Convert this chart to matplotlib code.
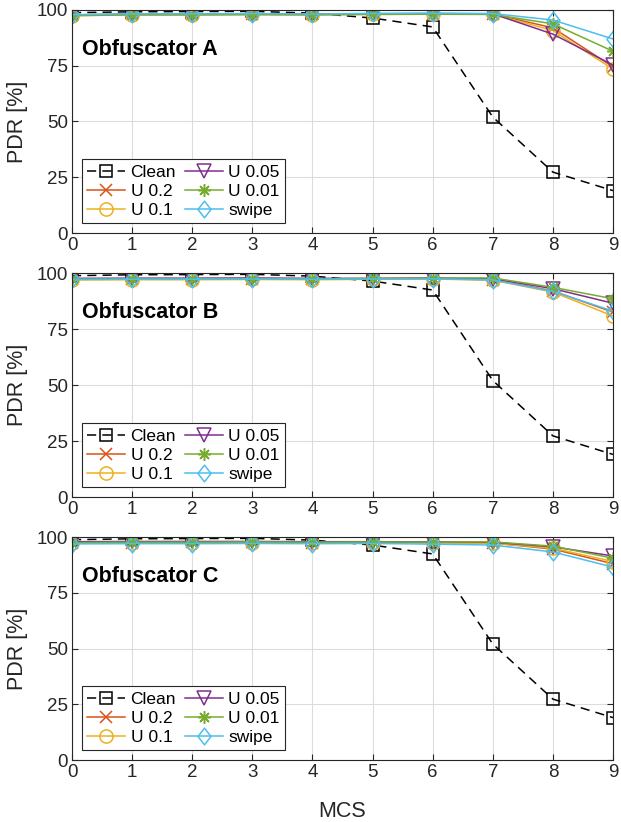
import matplotlib
matplotlib.use("Agg")
import matplotlib.pyplot as plt
from matplotlib.path import Path
import numpy as np

plt.rcParams['font.family'] = ['Liberation Sans', 'DejaVu Sans']

mcs = [0, 1, 2, 3, 4, 5, 6, 7, 8, 9]
series_names = ['Clean', 'U 0.2', 'U 0.1', 'U 0.05', 'U 0.01', 'swipe']
panel_titles = ['Obfuscator A', 'Obfuscator B', 'Obfuscator C']

clean = [98.8, 99.2, 99.3, 99.4, 98.6, 96.4, 92.4, 52.0, 27.3, 19.0]

pdr_A = {
    'U 0.2':  [97.6, 98.0, 98.0, 98.1, 98.0, 98.2, 98.3, 98.2, 92.0, 74.5],
    'U 0.1':  [97.4, 97.9, 97.9, 98.0, 97.9, 98.1, 98.2, 98.1, 90.8, 73.5],
    'U 0.05': [97.8, 98.2, 98.2, 98.3, 98.1, 98.3, 98.4, 98.3, 89.2, 75.3],
    'U 0.01': [97.5, 97.8, 97.8, 97.9, 97.8, 98.0, 98.1, 98.0, 93.8, 81.5],
    'swipe':  [97.9, 98.3, 98.3, 98.4, 98.2, 98.5, 98.6, 98.4, 95.5, 87.0],
}
pdr_B = {
    'U 0.2':  [97.2, 97.3, 97.3, 97.4, 97.3, 97.4, 97.5, 97.0, 92.0, 82.5],
    'U 0.1':  [96.9, 97.0, 97.0, 97.1, 97.0, 97.2, 97.3, 96.8, 91.5, 80.8],
    'U 0.05': [97.6, 97.7, 97.7, 97.8, 97.6, 97.6, 97.8, 97.4, 93.0, 86.5],
    'U 0.01': [97.3, 97.4, 97.4, 97.5, 97.4, 97.6, 97.7, 97.8, 93.6, 88.5],
    'swipe':  [97.1, 97.2, 97.2, 97.3, 97.2, 97.3, 97.4, 96.9, 91.8, 83.0],
}
pdr_C = {
    'U 0.2':  [97.4, 97.5, 97.6, 97.6, 97.5, 97.6, 97.5, 97.3, 94.6, 88.0],
    'U 0.1':  [97.2, 97.4, 97.4, 97.5, 97.4, 97.5, 97.4, 97.2, 95.0, 89.0],
    'U 0.05': [97.9, 98.0, 98.0, 98.0, 97.9, 97.9, 97.8, 97.6, 95.6, 91.5],
    'U 0.01': [97.5, 97.7, 97.7, 97.8, 97.7, 97.8, 97.7, 97.8, 95.9, 90.5],
    'swipe':  [96.9, 97.0, 97.0, 97.1, 97.0, 97.1, 96.8, 96.4, 93.3, 86.5],
}
panels = [pdr_A, pdr_B, pdr_C]

colors = {'Clean': 'black', 'U 0.2': '#D95319', 'U 0.1': '#EDB120',
          'U 0.05': '#7E2F8E', 'U 0.01': '#77AC30', 'swipe': '#4DBEEE'}

diamond = Path([(0, 1), (0.78, 0), (0, -1), (-0.78, 0), (0, 1)],
               [Path.MOVETO, Path.LINETO, Path.LINETO, Path.LINETO, Path.CLOSEPOLY])
markers = {'Clean': 's', 'U 0.2': 'x', 'U 0.1': 'o', 'U 0.05': 'v',
           'U 0.01': (8, 2, 0), 'swipe': diamond}
msizes = {'Clean': 9, 'U 0.2': 8, 'U 0.1': 9.5, 'U 0.05': 9.5,
          'U 0.01': 9, 'swipe': 12}

fig = plt.figure(figsize=(6.21, 8.22), dpi=100)
left, right = 72 / 621, 613 / 621
boxes = [(10, 233), (273, 497), (537, 760)]

for i, (data, title) in enumerate(zip(panels, panel_titles)):
    top_px, bot_px = boxes[i]
    ax = fig.add_axes([left, 1 - bot_px / 822, right - left, (bot_px - top_px) / 822])
    for name in series_names:
        y = clean if name == 'Clean' else data[name]
        kw = dict(dashes=(6, 4)) if name == 'Clean' else {}
        ax.plot(mcs, y, color=colors[name], marker=markers[name],
                linestyle='--' if name == 'Clean' else '-',
                linewidth=1.1, markersize=msizes[name], markerfacecolor='none',
                markeredgewidth=1.1, label=name, **kw)
    ax.set_xlim(0, 9)
    ax.set_ylim(0, 100)
    ax.set_xticks(range(10))
    ax.set_yticks([0, 25, 50, 75, 100])
    ax.grid(True, color='#dcdcdc', linewidth=0.8)
    ax.set_axisbelow(True)
    ax.tick_params(direction='in', top=True, right=True, labelsize=13.5,
                   color='#262626', length=4, pad=3, labelcolor='#262626')
    for s in ax.spines.values():
        s.set_color('#262626')
        s.set_linewidth(0.8)
    ax.set_ylabel('PDR [%]', fontsize=15.5, labelpad=6, color='#262626')
    ax.text(0.17, 82.5, title, fontsize=15.5, fontweight='bold', va='center', ha='left')
    leg = ax.legend(loc='lower left', ncol=2, fontsize=12.5, frameon=True,
                    fancybox=False, edgecolor='#262626', framealpha=1,
                    handlelength=2.2, handletextpad=0.3, columnspacing=0.5,
                    labelspacing=0.22, borderpad=0.3, borderaxespad=0,
                    bbox_to_anchor=(10 / 541, 10 / 223))
    leg.get_frame().set_linewidth(0.8)
    if i == 2:
        ax.set_xlabel('MCS', fontsize=15.5, labelpad=14, color='#262626')

fig.savefig('out.png', dpi=100)
